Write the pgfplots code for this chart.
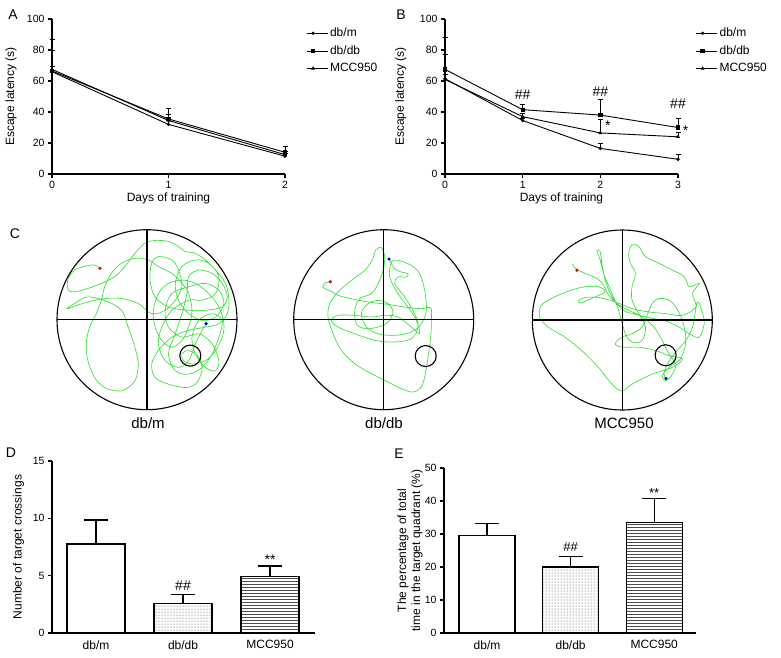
\documentclass[border=0pt]{standalone}
\usepackage{fontspec}
\setmainfont{Liberation Sans}
\usepackage{pgfplots}
\pgfplotsset{compat=1.18}
\usetikzlibrary{patterns}
\definecolor{swim}{RGB}{50,225,50}
\pgfplotsset{
  prism/.style={scale only axis, axis x line*=bottom, axis y line*=left,
    axis line style={line width=1.2pt,-}, tick style={line width=1.2pt,black},
    major tick length=4pt, tick align=outside,
    tick label style={font=\fontsize{10.5}{12}\selectfont},
    /pgf/number format/assume math mode=true, clip=false},
  lineleg/.style={legend style={draw=none, fill=none, inner sep=0pt, font=\fontsize{12}{14}\selectfont, row sep=3.5pt, anchor=north west},
    legend cell align=left,
    legend image code/.code={\draw[##1, mark repeat=2, mark phase=2] plot coordinates {(0pt,0pt) (6.5pt,0pt) (13pt,0pt)}; \path (0pt,0pt) -- (21pt,0pt);}},
  eb/.style={error bars/.cd, y dir=plus, y explicit, error bar style={line width=0.9pt}, error mark options={rotate=90, mark size=2.5pt, line width=0.9pt}},
  beb/.style={error bars/.cd, y dir=plus, y explicit, error bar style={line width=1.3pt}, error mark options={rotate=90, mark size=12pt, line width=1.3pt}},
  pool/.style={scale only axis, hide axis, width=180pt, height=180pt, y dir=reverse, clip=false},
  path/.style={swim, line width=0.65pt, smooth, tension=0.55, mark=none}
}
\begin{document}
\begin{tikzpicture}
\useasboundingbox (0pt,0pt) rectangle (781pt,657pt);
% panel letters
\node[font=\fontsize{14}{16}\selectfont] at (13pt,642pt) {A};
\node[font=\fontsize{14}{16}\selectfont] at (401pt,642pt) {B};
\node[font=\fontsize{14}{16}\selectfont] at (15pt,423pt) {C};
\node[font=\fontsize{14}{16}\selectfont] at (11pt,204pt) {D};
\node[font=\fontsize{14}{16}\selectfont] at (399pt,203pt) {E};

% ---------- A ----------
\begin{axis}[prism, lineleg, at={(52pt,483pt)}, anchor=south west, width=233pt, height=155pt,
  xmin=0, xmax=2, ymin=0, ymax=100, xtick={0,1,2}, ytick={0,20,40,60,80,100},
  xlabel={Days of training}, ylabel={Escape latency (s)},
  every axis x label/.style={at={(axis description cs:0.5,-0.155)}, anchor=center, font=\fontsize{12}{14}\selectfont},
  every axis y label/.style={at={(axis description cs:-0.176,0.5)}, rotate=90, anchor=center, font=\fontsize{12}{14}\selectfont},
  legend style={at={(1.09,0.955)}}]
\addplot[black, line width=0.9pt, mark=*, mark size=1.2pt, eb] coordinates {(0,66) +- (0,20.5) (1,32) +- (0,3) (2,11.5) +- (0,1.5)};
\addplot[black, line width=0.9pt, mark=square*, mark size=1.7pt, eb] coordinates {(0,66.5) +- (0,13.5) (1,35.5) +- (0,6.5) (2,14) +- (0,3.5)};
\addplot[black, line width=0.9pt, mark=triangle*, mark size=1.4pt, eb] coordinates {(0,67.5) +- (0,2) (1,34.5) +- (0,4) (2,12.5) +- (0,2)};
\legend{db/m, db/db, MCC950}
\end{axis}

% ---------- B ----------
\begin{axis}[prism, lineleg, at={(445pt,483pt)}, anchor=south west, width=233pt, height=155pt,
  xmin=0, xmax=3, ymin=0, ymax=100, xtick={0,1,2,3}, ytick={0,20,40,60,80,100},
  xlabel={Days of training}, ylabel={Escape latency (s)},
  every axis x label/.style={at={(axis description cs:0.5,-0.155)}, anchor=center, font=\fontsize{12}{14}\selectfont},
  every axis y label/.style={at={(axis description cs:-0.19,0.5)}, rotate=90, anchor=center, font=\fontsize{12}{14}\selectfont},
  legend style={at={(1.075,0.955)}}]
\addplot[black, line width=0.9pt, mark=*, mark size=1.2pt, eb] coordinates {(0,61.5) +- (0,15.5) (1,34.5) +- (0,1.5) (2,16.5) +- (0,3.5) (3,9.5) +- (0,3)};
\addplot[black, line width=0.9pt, mark=square*, mark size=1.7pt, eb] coordinates {(0,67.5) +- (0,20.5) (1,41.5) +- (0,3.5) (2,38) +- (0,10) (3,30) +- (0,6)};
\addplot[black, line width=0.9pt, mark=triangle*, mark size=1.4pt, eb] coordinates {(0,61) +- (0,3) (1,37) +- (0,2) (2,26.5) +- (0,8.5) (3,24) +- (0,3)};
\legend{db/m, db/db, MCC950}
\node[font=\fontsize{14}{16}\selectfont, anchor=base] at (axis cs:1,48.2) {\#\#};
\node[font=\fontsize{14}{16}\selectfont, anchor=base] at (axis cs:2,49.9) {\#\#};
\node[font=\fontsize{14}{16}\selectfont, anchor=base] at (axis cs:3,42.4) {\#\#};
\node[font=\fontsize{14}{16}\selectfont, anchor=base west, inner sep=0pt] at (axis cs:2.06,27.9) {*};
\node[font=\fontsize{14}{16}\selectfont, anchor=base west, inner sep=0pt] at (axis cs:3.06,24.7) {*};
\end{axis}

% ---------- C ----------
\begin{axis}[pool, at={(57pt,247.3pt)}, anchor=south west, xmin=8, xmax=544, ymin=10, ymax=546]
\addplot[path] coordinates {(136,125) (120,115) (95,118) (60,130) (40,160) (42,190) (60,195) (100,185) (140,170) (180,150) (210,120) (240,80) (270,50) (300,42) (340,45) (370,60) (390,75) (420,80) (450,100) (480,130) (510,170) (520,220) (515,260) (490,290) (450,300) (400,310) (350,330) (310,370) (290,410) (300,450) (340,470) (390,480) (420,470) (440,430) (430,390) (400,370) (380,380) (385,400) (410,410) (450,400) (480,370) (500,330) (505,290) (490,240) (460,200) (420,170) (380,160) (340,170) (310,200) (295,250) (300,300) (320,340) (350,360) (380,340) (400,300) (410,250) (400,200) (380,170) (350,140) (310,120) (280,100) (240,95) (200,110) (170,140) (150,180) (140,220) (125,260) (105,300) (95,350) (100,400) (120,450) (150,480) (200,490) (240,460) (250,410) (240,360) (220,300) (200,250) (160,225) (100,210) (60,230) (38,245) (60,238) (100,225) (150,215) (200,215) (250,230) (290,260) (330,250) (360,220) (380,180) (370,130) (350,100) (310,90) (290,110) (285,160) (300,210) (340,240) (400,250) (450,250) (500,240) (515,210) (500,170) (470,140) (430,130) (400,150) (395,200) (380,260) (360,320) (340,380) (360,430) (400,440) (440,420) (470,380) (490,330) (500,280) (470,260) (430,280) (410,330) (420,380) (450,420) (480,430) (490,400) (470,350) (430,320) (380,330) (340,300) (330,250) (350,200) (400,180) (450,170) (490,190) (505,230) (480,270) (440,280) (400,260) (370,220) (360,170) (380,120) (420,100) (460,110) (490,150) (480,200) (440,220) (400,220) (350,250) (320,300) (310,350) (330,400) (370,420) (400,400) (420,350) (440,310) (452,290)};
\addplot[only marks, mark=*, mark size=1.4pt, red!85!black] coordinates {(136,125)};
\addplot[only marks, mark=*, mark size=1.4pt, blue!80!black] coordinates {(452,290)};
\draw[line width=1.1pt] (axis cs:276,278) circle [radius=90pt];
\draw[line width=1.1pt] (axis cs:8,278) -- (axis cs:544,278);
\draw[line width=1.1pt] (axis cs:276,10) -- (axis cs:276,546);
\draw[line width=1.1pt] (axis cs:405,385) circle [radius=10.5pt];
\end{axis}
\node[font=\fontsize{15}{17}\selectfont] at (148pt,234pt) {db/m};

\begin{axis}[pool, at={(293.7pt,247.3pt)}, anchor=south west, xmin=17, xmax=557, ymin=8, ymax=548]
\addplot[path] coordinates {(127,164) (112,168) (104,180) (118,188) (135,195) (150,205) (190,215) (240,225) (300,232) (350,240) (400,245) (428,242) (430,280) (428,330) (420,390) (412,440) (400,480) (375,495) (340,485) (300,465) (250,440) (200,410) (160,370) (135,320) (120,270) (125,230) (150,195) (190,160) (230,130) (255,95) (262,70) (280,62) (290,90) (285,130) (270,170) (250,200) (215,215) (200,250) (205,290) (230,305) (270,300) (300,285) (315,255) (300,230) (270,220) (240,230) (220,260) (235,300) (270,320) (320,325) (370,315) (400,290) (415,250) (410,190) (395,140) (370,115) (330,100) (310,105) (305,150) (330,200) (360,240) (385,280) (395,320) (370,300) (330,270) (290,265) (250,270) (200,265) (150,265) (130,280) (150,300) (200,320) (260,340) (320,345) (370,335) (390,300) (380,260) (350,210) (320,170) (330,150) (355,150) (360,140) (340,135) (320,125) (303,96)};
\addplot[only marks, mark=*, mark size=1.4pt, red!85!black] coordinates {(127,164)};
\addplot[only marks, mark=*, mark size=1.4pt, blue!80!black] coordinates {(303,96)};
\draw[line width=1.1pt] (axis cs:287,278) circle [radius=90pt];
\draw[line width=1.1pt] (axis cs:17,278) -- (axis cs:557,278);
\draw[line width=1.1pt] (axis cs:287,8) -- (axis cs:287,548);
\draw[line width=1.1pt] (axis cs:413,387) circle [radius=10.5pt];
\end{axis}
\node[font=\fontsize{15}{17}\selectfont] at (384pt,234pt) {db/db};

\begin{axis}[pool, at={(532.3pt,247pt)}, anchor=south west, xmin=3, xmax=539, ymin=11, ymax=547]
\addplot[path] coordinates {(136,131) (122,113) (135,128) (160,140) (195,155) (215,175) (230,205) (255,230) (290,250) (330,270) (365,300) (390,340) (410,380) (430,410) (420,440) (401,460) (390,445) (410,420) (440,400) (455,370) (460,330) (450,280) (430,240) (410,220) (380,215) (360,230) (345,265) (330,300) (300,320) (270,330) (250,350) (270,360) (320,360) (370,370) (410,385) (450,395) (420,420) (360,440) (300,470) (270,490) (240,470) (200,420) (150,370) (100,330) (50,300) (25,270) (30,235) (70,210) (120,190) (160,180) (200,180) (220,195) (190,210) (150,228) (140,222) (160,212) (200,212) (250,225) (300,245) (350,255) (400,260) (450,265) (490,240) (480,200) (500,170) (470,180) (455,150) (420,130) (380,110) (340,90) (320,60) (300,55) (290,80) (295,110) (310,140) (300,180) (300,220) (320,260) (340,300) (330,340) (300,345) (280,320) (260,250) (240,200) (215,140) (205,100) (195,72) (205,75) (210,110) (220,160) (240,210) (275,250) (310,262) (350,272) (400,282) (440,300) (470,320) (500,330) (515,290) (510,260) (495,225) (480,300) (460,340) (430,375) (405,410) (395,440) (401,453)};
\addplot[only marks, mark=*, mark size=1.4pt, red!85!black] coordinates {(136,131)};
\addplot[only marks, mark=*, mark size=1.4pt, blue!80!black] coordinates {(401,453)};
\draw[line width=1.1pt] (axis cs:271,279) circle [radius=90pt];
\draw[line width=1.1pt] (axis cs:3,279) -- (axis cs:539,279);
\draw[line width=1.1pt] (axis cs:271,11) -- (axis cs:271,547);
\draw[line width=1.1pt] (axis cs:400,384) circle [radius=10.5pt];
\end{axis}
\node[font=\fontsize{15}{17}\selectfont] at (624pt,234pt) {MCC950};

% ---------- D ----------
\begin{axis}[prism, at={(52pt,24pt)}, anchor=south west, width=263pt, height=172pt,
  xmin=-0.506, xmax=2.517, ymin=0, ymax=15, ytick={0,5,10,15},
  xtick={0,1,2}, xticklabels={db/m, db/db, MCC950}, x tick style={draw=none},
  x tick label style={font=\fontsize{12}{14}\selectfont},
  ylabel={Number of target crossings},
  every axis y label/.style={at={(axis description cs:-0.127,0.5)}, rotate=90, anchor=center, font=\fontsize{12}{14}\selectfont}]
\addplot[ybar, bar width=58pt, bar shift=0pt, fill=white, draw=black, line width=1.3pt, beb] coordinates {(0,7.75) +- (0,2.1)};
\addplot[ybar, bar width=58pt, bar shift=0pt, pattern=dots, pattern color=black!80, draw=black, line width=1.3pt, beb] coordinates {(1,2.6) +- (0,0.75)};
\addplot[ybar, bar width=58pt, bar shift=0pt, pattern=horizontal lines, pattern color=black!70, draw=black, line width=1.3pt, beb] coordinates {(2,4.9) +- (0,0.95)};
\node[font=\fontsize{14}{16}\selectfont, anchor=base] at (axis cs:1,3.75) {\#\#};
\node[font=\fontsize{14}{16}\selectfont, anchor=base] at (axis cs:2,5.95) {**};
\end{axis}

% ---------- E ----------
\begin{axis}[prism, at={(444pt,24pt)}, anchor=south west, width=252pt, height=165pt,
  xmin=-0.515, xmax=2.5, ymin=0, ymax=50, ytick={0,10,20,30,40,50},
  xtick={0,1,2}, xticklabels={db/m, db/db, MCC950}, x tick style={draw=none},
  x tick label style={font=\fontsize{12}{14}\selectfont},
  ylabel={The percentage of total\\time in the target quadrant (\%)},
  every axis y label/.style={at={(axis description cs:-0.135,0.5)}, rotate=90, anchor=center, align=center, font=\fontsize{12}{14}\selectfont}]
\addplot[ybar, bar width=56pt, bar shift=0pt, fill=white, draw=black, line width=1.3pt, beb] coordinates {(0,29.6) +- (0,3.5)};
\addplot[ybar, bar width=56pt, bar shift=0pt, pattern=dots, pattern color=black!80, draw=black, line width=1.3pt, beb] coordinates {(1,20) +- (0,3.1)};
\addplot[ybar, bar width=56pt, bar shift=0pt, pattern=horizontal lines, pattern color=black!70, draw=black, line width=1.3pt, beb] coordinates {(2,33.4) +- (0,7.3)};
\node[font=\fontsize{13}{15}\selectfont, anchor=base] at (axis cs:1,24.6) {\#\#};
\node[font=\fontsize{13}{15}\selectfont, anchor=base] at (axis cs:2,41.2) {**};
\end{axis}
\end{tikzpicture}
\end{document}
